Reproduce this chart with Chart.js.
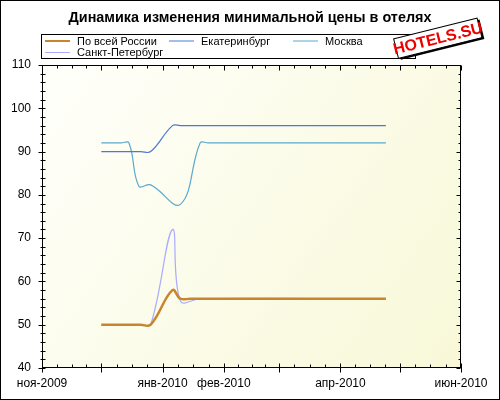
<!DOCTYPE html>
<html>
<head>
<meta charset="utf-8">
<script src="https://cdn.jsdelivr.net/npm/chart.js@4"></script>
<style>
html, body { margin: 0; padding: 0; background: #fff; }
</style>
</head>
<body>
<canvas id="chart" width="500" height="400"></canvas>
<script>
// days are counted from 1 Nov 2009
const seriesNames = ['По всей России', 'Екатеринбург', 'Москва', 'Санкт-Петербург'];
const seriesColors = ['#c8862c', '#4a7ad8', '#5aa8d0', '#aaaaff'];

const russiaDays = [30, 50, 55, 66, 70, 75, 174];
const russiaValues = [50, 50, 50, 58, 56, 56, 56];

const ekbDays = [30, 50, 55, 66, 70, 174];
const ekbValues = [90, 90, 90, 96, 96, 96];

const moscowDays = [30, 40, 44, 49, 55, 70, 80, 84, 174];
const moscowValues = [92, 92, 92, 82, 82.3, 77.8, 92, 92, 92];

const spbDays = [30, 50, 55, 66, 70, 80, 174];
const spbValues = [50, 50, 50, 72, 55.5, 56, 56];

const monthDays = [0, 30, 61, 92, 120, 151, 181, 212];
const monthLabels = ['ноя-2009', '', 'янв-2010', 'фев-2010', '', 'апр-2010', '', 'июн-2010'];
const yTicks = [40, 50, 60, 70, 80, 90, 100, 110];

const FONT = '"Liberation Sans", Arial, sans-serif';

function points(days, values) {
    return days.map((d, i) => ({ x: d, y: values[i] }));
}

function line(idx, days, values, width) {
    return {
        label: seriesNames[idx],
        data: points(days, values),
        borderColor: seriesColors[idx],
        borderWidth: width,
        pointRadius: 0,
        tension: 0.4,
        fill: false,
        order: idx === 0 ? 0 : 1
    };
}

// background, frame, tick marks, legend and logo
const decor = {
    id: 'decor',
    beforeDraw(chart) {
        const { ctx, chartArea: a } = chart;
        ctx.save();
        ctx.fillStyle = '#fff';
        ctx.fillRect(0, 0, chart.width, chart.height);
        const g = ctx.createLinearGradient(a.left, a.top, a.right, a.bottom);
        g.addColorStop(0, '#fffffb');
        g.addColorStop(1, '#f8f8d8');
        ctx.fillStyle = g;
        ctx.fillRect(a.left, a.top, a.right - a.left, a.bottom - a.top);
        ctx.restore();
    },
    afterDatasetsDraw(chart) {
        const { ctx, chartArea: a, scales } = chart;
        const x = scales.x, y = scales.y;
        const L = Math.round(a.left) + 0.5, R = Math.round(a.right) - 0.5;
        const T = Math.round(a.top) + 0.5, B = Math.round(a.bottom) - 0.5;
        ctx.save();
        ctx.strokeStyle = '#000';
        ctx.lineWidth = 1;
        ctx.strokeRect(L, T, R - L, B - T);
        ctx.beginPath();
        // x ticks: month starts are major, quarter months are minor
        for (let m = 0; m < monthDays.length; m++) {
            const px = Math.round(x.getPixelForValue(monthDays[m])) + 0.5;
            ctx.moveTo(px, B - 4); ctx.lineTo(px, B + 5);
            ctx.moveTo(px, T); ctx.lineTo(px, T + 5);
            if (m < monthDays.length - 1) {
                const span = monthDays[m + 1] - monthDays[m];
                for (let q = 1; q < 4; q++) {
                    const mx = Math.round(x.getPixelForValue(monthDays[m] + span * q / 4)) + 0.5;
                    ctx.moveTo(mx, B - 3); ctx.lineTo(mx, B);
                    ctx.moveTo(mx, T); ctx.lineTo(mx, T + 3);
                }
            }
        }
        // y ticks
        for (let v = 40; v <= 110; v += 2) {
            const py = Math.round(y.getPixelForValue(v)) + 0.5;
            if (v % 10 === 0) {
                ctx.moveTo(L - 4, py); ctx.lineTo(L + 3, py);
                ctx.moveTo(R - 4, py); ctx.lineTo(R, py);
            } else {
                ctx.moveTo(L - 2, py); ctx.lineTo(L + 3, py);
                ctx.moveTo(R - 2, py); ctx.lineTo(R, py);
            }
        }
        ctx.stroke();

        // legend
        ctx.fillStyle = '#fff';
        ctx.fillRect(41.5, 34.5, 374, 24);
        ctx.strokeRect(41.5, 34.5, 374, 24);
        ctx.font = '11px ' + FONT;
        ctx.textBaseline = 'middle';
        ctx.fillStyle = '#000';
        chart.data.datasets.forEach((ds, i) => {
            const col = i % 3, row = Math.floor(i / 3);
            const lx = 45 + col * 124, ly = 41 + row * 11.5;
            ctx.beginPath();
            ctx.strokeStyle = ds.borderColor;
            ctx.lineWidth = i === 0 ? 2 : 1;
            ctx.moveTo(lx, ly); ctx.lineTo(lx + 25, ly);
            ctx.stroke();
            ctx.fillText(ds.label, lx + 32, ly + 0.5);
        });

        // logo
        ctx.translate(439, 39);
        ctx.rotate(-14 * Math.PI / 180);
        ctx.fillStyle = '#000';
        ctx.fillRect(-42, -9, 86, 20);
        ctx.fillStyle = '#fff';
        ctx.fillRect(-44, -11, 86, 20);
        ctx.strokeStyle = '#000';
        ctx.lineWidth = 1;
        ctx.strokeRect(-44, -11, 86, 20);
        ctx.fillStyle = '#e00';
        ctx.font = 'bold 16px ' + FONT;
        ctx.textAlign = 'center';
        ctx.fillText('HOTELS.SU', -1, 0);
        ctx.restore();

        // outer border
        ctx.save();
        ctx.strokeStyle = '#000';
        ctx.strokeRect(0.5, 0.5, chart.width - 1, chart.height - 1);
        ctx.restore();
    }
};

new Chart(document.getElementById('chart'), {
    type: 'line',
    data: {
        datasets: [
            line(0, russiaDays, russiaValues, 2.5),
            line(1, ekbDays, ekbValues, 1.2),
            line(2, moscowDays, moscowValues, 1.2),
            line(3, spbDays, spbValues, 1.2)
        ]
    },
    options: {
        responsive: false,
        animation: false,
        layout: { padding: 0 },
        scales: {
            x: {
                type: 'linear',
                min: 0,
                max: 212,
                afterBuildTicks(scale) { scale.ticks = monthDays.map(v => ({ value: v })); },
                afterFit(scale) { scale.height = 32; },
                grid: { display: false, drawTicks: false },
                border: { display: false },
                ticks: {
                    autoSkip: false,
                    maxRotation: 0,
                    padding: 8,
                    color: '#000',
                    font: { family: FONT, size: 12 },
                    callback: v => monthLabels[monthDays.indexOf(v)]
                }
            },
            y: {
                min: 40,
                max: 110,
                afterBuildTicks(scale) { scale.ticks = yTicks.map(v => ({ value: v })); },
                afterFit(scale) { scale.width = 42; },
                grid: { display: false, drawTicks: false },
                border: { display: false },
                ticks: {
                    padding: 11,
                    color: '#000',
                    font: { family: FONT, size: 12 }
                }
            },
            yRight: {
                position: 'right',
                min: 40,
                max: 110,
                afterFit(scale) { scale.width = 39; },
                grid: { display: false, drawTicks: false },
                border: { display: false },
                ticks: { display: false }
            }
        },
        plugins: {
            legend: { display: false },
            tooltip: { enabled: false },
            title: {
                display: true,
                text: 'Динамика изменения минимальной цены в отелях',
                color: '#000',
                font: { family: FONT, size: 14.4, weight: 'bold' },
                padding: { top: 9, bottom: 38.7 }
            }
        }
    },
    plugins: [decor]
});
</script>
</body>
</html>
